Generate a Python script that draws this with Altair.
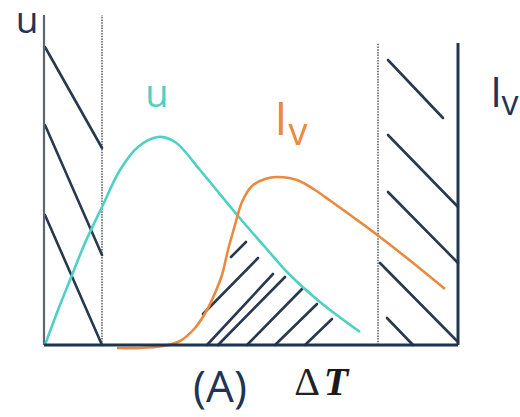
import altair as alt
import pandas as pd

# Diagram units: x runs to the right from the left axis, y runs up from the baseline.
xs = alt.Scale(domain=[-44, 476], nice=False, zero=False)
ys = alt.Scale(domain=[-72, 345], nice=False, zero=False)

# u curve
u_x = [1, 14, 26, 41, 58, 76, 94, 114, 131, 156, 166, 189, 206, 221, 244, 276, 316]
u_y = [0, 35, 65, 102, 138, 175, 198, 208, 203, 175, 163, 135, 115, 98, 72, 43, 13]

# Iv curve
iv_x = [73, 96, 119, 136, 151, 163, 171, 178, 184, 191, 198, 208, 221, 233, 253, 271, 286, 311, 334, 366, 401]
iv_y = [-3, -3, -1, 4, 17, 35, 52, 70, 95, 120, 143, 159, 166, 168, 165, 155, 144.5, 126.5, 109.5, 84.5, 56]

# hatching strokes (start / end)
hatch_x0 = [1, 1, 1, 344, 344, 344, 336, 343, 187, 159, 163, 174, 203, 231, 261]
hatch_y0 = [298, 220, 130, 285, 210, 153, 82, 27, 88, 31, 0, 0, 0, 0, 0]
hatch_x1 = [58, 58, 58, 399, 414, 414, 414, 369, 202, 214, 229, 241, 258, 273, 288]
hatch_y1 = [197, 90, 0, 227, 138, 82, 3, 0, 103, 87, 71, 68, 56, 41, 26]

# frame: left axis, baseline, right axis
frame_x0 = [0, 0, 414]
frame_y0 = [0, 0, 0]
frame_x1 = [0, 414, 414]
frame_y1 = [330, 0, 302]
frame_kind = ["left", "base", "right"]

# dotted boundaries
dot_x = [58, 334]
dot_top = [330, 302]

NAVY = "#28394f"
CYAN = "#4fd0c4"
ORANGE = "#e98a3f"


def enc_seg():
    return dict(
        x=alt.X("x0:Q", scale=xs, axis=None),
        y=alt.Y("y0:Q", scale=ys, axis=None),
        x2="x1:Q",
        y2="y1:Q",
    )


hatch_df = pd.DataFrame({"x0": hatch_x0, "y0": hatch_y0, "x1": hatch_x1, "y1": hatch_y1})
frame_df = pd.DataFrame({"x0": frame_x0, "y0": frame_y0, "x1": frame_x1, "y1": frame_y1, "kind": frame_kind})
dot_df = pd.DataFrame({"x0": dot_x, "y0": [0, 0], "x1": dot_x, "y1": dot_top})
u_df = pd.DataFrame({"x": u_x, "y": u_y, "i": range(len(u_x))})
iv_df = pd.DataFrame({"x": iv_x, "y": iv_y, "i": range(len(iv_x))})

hatch = alt.Chart(hatch_df).mark_rule(color=NAVY, strokeWidth=2.6, strokeCap="round").encode(**enc_seg())

dotted = alt.Chart(dot_df).mark_rule(color="#5f6369", strokeWidth=1.6, strokeDash=[1.5, 1.2]).encode(**enc_seg())

left_axis = alt.Chart(frame_df).transform_filter("datum.kind == 'left'").mark_rule(
    color="#5b6673", strokeWidth=2.2).encode(**enc_seg())
base_axis = alt.Chart(frame_df).transform_filter("datum.kind == 'base'").mark_rule(
    color="#1f3450", strokeWidth=3).encode(**enc_seg())
right_axis = alt.Chart(frame_df).transform_filter("datum.kind == 'right'").mark_rule(
    color="#22364f", strokeWidth=3).encode(**enc_seg())


def curve(df, color):
    return alt.Chart(df).mark_line(color=color, strokeWidth=2.6, interpolate="catmull-rom").encode(
        x=alt.X("x:Q", scale=xs, axis=None),
        y=alt.Y("y:Q", scale=ys, axis=None),
        order="i:Q",
    )


u_line = curve(u_df, CYAN)
iv_line = curve(iv_df, ORANGE)

# labels
lab_text = ["u", "u", "I", "v", "I", "v", "(A)"]
lab_x = [-17, 113, 237, 254, 452, 466, 176]
lab_y = [312, 238, 210, 200, 238, 230, -57]
lab_size = [37, 38, 46, 38, 42, 34, 44]
lab_color = ["#1f3556", CYAN, ORANGE, ORANGE, "#1f3556", "#1f3556", "#1f3556"]
lab_df = pd.DataFrame({"t": lab_text, "x": lab_x, "y": lab_y, "s": lab_size, "c": lab_color})

labels = alt.Chart(lab_df).mark_text(font="Open Sans", baseline="alphabetic", align="center").encode(
    x=alt.X("x:Q", scale=xs, axis=None),
    y=alt.Y("y:Q", scale=ys, axis=None),
    text="t:N",
    size=alt.Size("s:Q", scale=None, legend=None),
    color=alt.Color("c:N", scale=None, legend=None),
)

# ΔT: upright delta, bold italic T
dt_df = pd.DataFrame({"t": ["Δ", "T"], "x": [263, 292], "y": [-50, -50]})
delta = alt.Chart(dt_df).transform_filter("datum.t == 'Δ'").mark_text(
    font="Liberation Serif", fontSize=40, color="#222", baseline="alphabetic", align="center"
).encode(x=alt.X("x:Q", scale=xs, axis=None), y=alt.Y("y:Q", scale=ys, axis=None), text="t:N")
tee = alt.Chart(dt_df).transform_filter("datum.t == 'T'").mark_text(
    font="Liberation Serif", fontSize=40, fontWeight="bold", fontStyle="italic", color="#1a1a1a",
    baseline="alphabetic", align="center"
).encode(x=alt.X("x:Q", scale=xs, axis=None), y=alt.Y("y:Q", scale=ys, axis=None), text="t:N")

chart = alt.layer(
    dotted, hatch, left_axis, right_axis, u_line, iv_line, base_axis, labels, delta, tee
).properties(
    width=520, height=417, padding=0, autosize=alt.AutoSizeParams(type="none"), background="white"
).configure_view(stroke=None)

chart.save("out.html", embed_options={"renderer": "svg", "actions": False})
